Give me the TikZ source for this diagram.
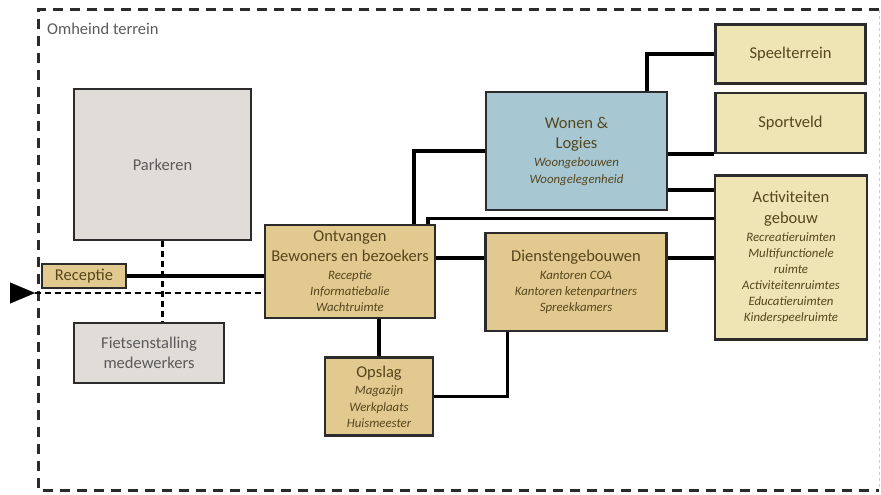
\documentclass[tikz,border=0pt]{standalone}
\usepackage{fontspec}
\setmainfont{Carlito}
\usetikzlibrary{arrows.meta}
\definecolor{tanc}{RGB}{226,201,143}
\definecolor{yelc}{RGB}{239,229,180}
\definecolor{bluec}{RGB}{167,200,211}
\definecolor{grayc}{RGB}{224,221,216}
\definecolor{bordc}{RGB}{43,43,43}
\definecolor{txtc}{RGB}{85,70,30}
\definecolor{gtxt}{RGB}{90,90,90}
\newcommand\sm[1]{{\fontsize{12.8}{16}\selectfont\itshape #1}}
\tikzset{
  box/.style={draw=bordc, line width=2.2pt, inner sep=0pt, align=center, text=txtc,
    font=\fontsize{16.5}{20}\selectfont},
  tanbox/.style={box, fill=tanc},
  yelbox/.style={box, fill=yelc},
  bluebox/.style={box, fill=bluec},
  graybox/.style={box, fill=grayc, text=gtxt},
  conn/.style={line width=3.6pt, black},
  dconn/.style={line width=2.4pt, black, dash pattern=on 6pt off 4pt},
  fence/.style={line width=3pt, bordc, dash pattern=on 10pt off 7pt}
}
\begin{document}
\begin{tikzpicture}[x=1pt,y=-1pt]
\useasboundingbox (0,0) rectangle (881,495);
% fence
\draw[fence] (879,10) -- (38,10) -- (38,490) -- (879,490);
\draw[line width=1pt, gray!40, dash pattern=on 3pt off 3pt] (879,10) -- (879,490);
\node[anchor=west, text=gtxt, font=\fontsize{16.5}{20}\selectfont, inner sep=0pt] (lbl) at (47,29) {Omheind terrein};

% nodes
\node[graybox, minimum width=177pt, minimum height=151pt] (park) at (162.5,164.5) {Parkeren};
\node[graybox, minimum width=150pt, minimum height=60pt] (fiets) at (149,353) {Fietsenstalling\\medewerkers};
\node[tanbox, minimum width=84pt, minimum height=24pt] (rec) at (84,276) {Receptie};
\node[tanbox, minimum width=170pt, minimum height=93pt] (ontv) at (350,271.5)
  {Ontvangen\\Bewoners en bezoekers\\[-2pt]\sm{Receptie}\\[-4pt]\sm{Informatiebalie}\\[-4pt]\sm{Wachtruimte}};
\node[tanbox, minimum width=181pt, minimum height=98pt] (dien) at (576,282)
  {Dienstengebouwen\\[-2pt]\sm{Kantoren COA}\\[-4pt]\sm{Kantoren ketenpartners}\\[-4pt]\sm{Spreekkamers}};
\node[tanbox, minimum width=108pt, minimum height=78pt] (opslag) at (379,396.5)
  {Opslag\\[-3pt]\sm{Magazijn}\\[-3pt]\sm{Werkplaats}\\[-4pt]\sm{Huismeester}};
\node[bluebox, minimum width=181pt, minimum height=118pt] (wonen) at (576.5,151)
  {Wonen \&\\Logies\\[-2pt]\sm{Woongebouwen}\\[-3pt]\sm{Woongelegenheid}};
\node[yelbox, minimum width=150pt, minimum height=59pt] (speel) at (790.5,54) {Speelterrein};
\node[yelbox, minimum width=150pt, minimum height=60pt] (sport) at (790.5,123) {Sportveld};
\node[yelbox, minimum width=152pt, minimum height=164pt] (act) at (791,257.5)
  {Activiteiten\\[1pt]gebouw\\[-2pt]\sm{Recreatieruimten}\\[-4pt]\sm{Multifunctionele}\\[-4pt]\sm{ruimte}\\[-4pt]\sm{Activiteitenruimtes}\\[-4pt]\sm{Educatieruimten}\\[-4pt]\sm{Kinderspeelruimte}};

% entry arrow
\coordinate (entry) at (10,293);
\coordinate (tip) at (35,293);
\draw[line width=0.1pt, -{Triangle[length=25pt,width=21pt]}] (entry) -- (tip);
\draw[dconn] (tip) -- (tip -| ontv.west);
\draw[dconn] (park.south) -- (park.south |- fiets.north);

% connectors
\begin{scope}[on background layer/.style={}]
\draw[conn] (rec.east) -- (rec.east -| ontv.west);
\draw[conn] ([xshift=-22pt]ontv.north east) |- (wonen.west);
\draw[conn] ([xshift=-8pt]ontv.north east) |- ([yshift=-44pt]act.north west);
\draw[conn] ([yshift=13.5pt]ontv.east) -- ([yshift=13.5pt]ontv.east -| dien.west);
\draw[conn] ([yshift=24pt]dien.east) -- ([yshift=24pt]dien.east -| act.west);
\draw[conn] ([xshift=23pt]dien.south west) |- (opslag.east);
\draw[conn] (opslag.north) -- (opslag.north |- ontv.south);
\draw[conn] ([xshift=-21pt]wonen.north east) |- (speel.west);
\draw[conn] ([yshift=-3pt]wonen.east) ++(0,0) -- ([yshift=-3pt]wonen.east -| sport.west);
\draw[conn] ([yshift=-39pt]wonen.east) -- ([yshift=-39pt]wonen.east -| act.west);
\end{scope}
\end{tikzpicture}
\end{document}
